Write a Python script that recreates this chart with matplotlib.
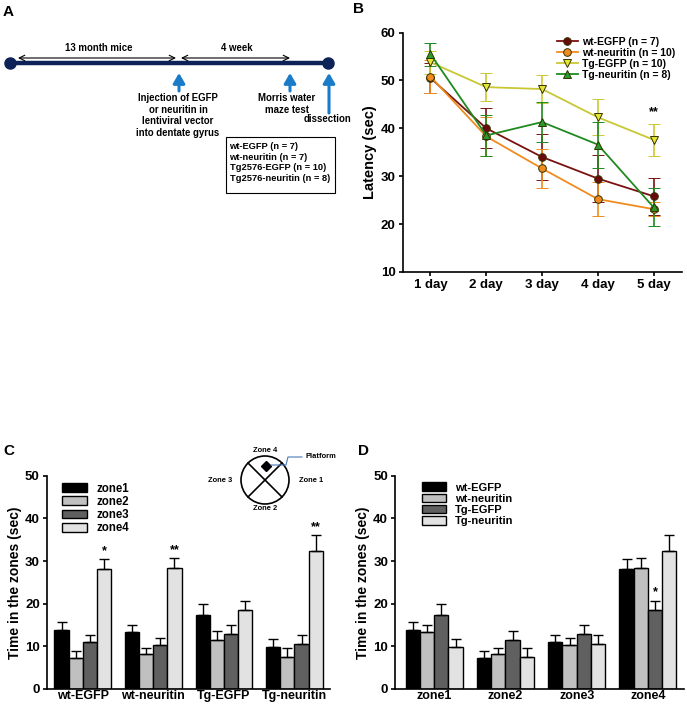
import numpy as np
import matplotlib
matplotlib.use('Agg')
import matplotlib.pyplot as plt
from matplotlib.patches import Circle, Rectangle
from matplotlib.lines import Line2D

plt.rcParams['font.family'] = ['Liberation Sans', 'DejaVu Sans']
plt.rcParams['font.weight'] = 'bold'
plt.rcParams['axes.labelweight'] = 'bold'

# ---- data ----
days = ['1 day', '2 day', '3 day', '4 day', '5 day']
latency_groups = ['wt-EGFP (n = 7)', 'wt-neuritin (n = 10)', 'Tg-EGFP (n = 10)', 'Tg-neuritin (n = 8)']
lat_wt_egfp = [50.5, 40.0, 34.0, 29.5, 25.8]
lat_wt_egfp_err = [3.2, 4.2, 4.9, 5.0, 3.9]
lat_wt_neu = [50.8, 38.3, 31.6, 25.2, 23.1]
lat_wt_neu_err = [3.5, 4.0, 4.1, 3.5, 1.4]
lat_tg_egfp = [53.8, 48.6, 48.2, 42.3, 37.6]
lat_tg_egfp_err = [2.4, 2.9, 3.0, 3.8, 3.3]
lat_tg_neu = [55.5, 38.5, 41.3, 36.6, 23.5]
lat_tg_neu_err = [2.4, 4.3, 4.2, 4.8, 4.0]

groups = ['wt-EGFP', 'wt-neuritin', 'Tg-EGFP', 'Tg-neuritin']
zones = ['zone1', 'zone2', 'zone3', 'zone4']
# rows: groups, cols: zones
zone_time = np.array([[13.8, 7.3, 10.9, 28.1],
                      [13.4, 8.1, 10.2, 28.3],
                      [17.4, 11.5, 12.8, 18.4],
                      [9.9, 7.4, 10.5, 32.4]])
zone_err = np.array([[2.0, 1.5, 1.8, 2.3],
                     [1.5, 1.5, 1.7, 2.3],
                     [2.5, 2.1, 2.2, 2.3],
                     [1.7, 2.3, 2.2, 3.6]])

timeline_groups = ['wt-EGFP (n = 7)', 'wt-neuritin (n = 7)', 'Tg2576-EGFP (n = 10)', 'Tg2576-neuritin (n = 8)']

bar_colors = ['#000000', '#c0c0c0', '#606060', '#e2e2e2']

fig = plt.figure(figsize=(6.87, 7.08), dpi=100)

# overlay axes in pixel coordinates for panel A and the maze sketch
ov = fig.add_axes([0, 0, 1, 1])
ov.set_xlim(0, 687)
ov.set_ylim(708, 0)
ov.axis('off')
ov.set_zorder(10)

# panel letters
for lab, x, y in [('A', 3, 12), ('B', 353, 9), ('C', 3, 451), ('D', 358, 451)]:
    ov.text(x, y, lab, fontsize=11, fontweight='bold', va='center', ha='left')

# ---- panel A: timeline ----
navy = '#0d2358'
blue = '#1a7cc8'
ov.plot([10, 328], [63, 63], color=navy, lw=3.2, solid_capstyle='butt')
ov.plot([10, 328], [63, 63], 'o', color=navy, ms=8)
ov.annotate('', xy=(18, 58), xytext=(176, 58),
            arrowprops=dict(arrowstyle='<->', color='black', lw=0.8, shrinkA=0, shrinkB=0))
ov.annotate('', xy=(181, 58), xytext=(290, 58),
            arrowprops=dict(arrowstyle='<->', color='black', lw=0.8, shrinkA=0, shrinkB=0))
ov.text(99, 48, '13 month mice', fontsize=6.9, ha='center', va='center')
ov.text(237, 48, '4 week', fontsize=6.9, ha='center', va='center')
for x0, y0 in [(179, 91), (290, 91), (329, 113)]:
    ov.annotate('', xy=(x0, 73), xytext=(x0, y0),
                arrowprops=dict(arrowstyle='-|>,head_width=0.35,head_length=0.6',
                                color=blue, lw=2.2, shrinkA=0, shrinkB=0))
ov.text(178, 93, 'Injection of EGFP\nor neuritin in\nlentiviral vector\ninto dentate gyrus',
        fontsize=6.9, ha='center', va='top', linespacing=1.2)
ov.text(287, 93, 'Morris water\nmaze test', fontsize=6.9, ha='center', va='top', linespacing=1.2)
ov.text(327, 119, 'dissection', fontsize=6.9, ha='center', va='center')
ov.add_patch(Rectangle((226, 137), 109, 56, fill=False, ec='black', lw=0.8))
ov.text(229.5, 142, '\n'.join(timeline_groups), fontsize=6.7, ha='left', va='top', linespacing=1.25)

# ---- maze sketch in panel C ----
cx, cy, r = 265, 480, 24
ov.add_patch(Circle((cx, cy), r, fill=False, ec='black', lw=1.2))
d = r / np.sqrt(2)
ov.plot([cx - d, cx + d], [cy - d, cy + d], color='black', lw=1.2)
ov.plot([cx - d, cx + d], [cy + d, cy - d], color='black', lw=1.2)
ov.plot([266], [465.5], marker='D', color='black', ms=5)
ov.plot([271, 286, 288, 302], [465, 465, 457, 457], color='#4a7ab8', lw=0.8)
ov.text(265, 450, 'Zone 4', fontsize=5.4, ha='center', va='center')
ov.text(220, 480, 'Zone 3', fontsize=5.4, ha='center', va='center')
ov.text(311, 480, 'Zone 1', fontsize=5.4, ha='center', va='center')
ov.text(265, 509, 'Zone 2', fontsize=5.4, ha='center', va='center')
ov.text(306, 457, 'Platform', fontsize=5.4, ha='left', va='center')


def style_axes(ax):
    for s in ['top', 'right']:
        ax.spines[s].set_visible(False)
    for s in ['left', 'bottom']:
        ax.spines[s].set_linewidth(1.2)
    ax.tick_params(width=1.2, length=3, labelsize=9.5, pad=2)
    for t in ax.get_xticklabels() + ax.get_yticklabels():
        t.set_fontweight('bold')


# ---- panel B: latency ----
axB = fig.add_axes([0.586, 0.616, 0.406, 0.338])
x = np.arange(len(days))
series = [
    (lat_wt_egfp, lat_wt_egfp_err, '#7a1212', '#6a0a0a', 'o'),
    (lat_wt_neu, lat_wt_neu_err, '#f08c1e', '#f08c1e', 'o'),
    (lat_tg_egfp, lat_tg_egfp_err, '#c8c834', '#e6e632', 'v'),
    (lat_tg_neu, lat_tg_neu_err, '#1f8a1f', '#2a9a2a', '^'),
]
handles = []
for (vals, err, lc, fc, mk), lab in zip(series, latency_groups):
    axB.errorbar(x, vals, yerr=err, color=lc, lw=1.3, capsize=4, capthick=1.2,
                 elinewidth=1.2, marker=mk, ms=5.5, mfc=fc, mec='#333300', mew=0.7)
    handles.append(Line2D([], [], color=lc, lw=1.3, marker=mk, ms=5.5, mfc=fc,
                          mec='#333300', mew=0.7, label=lab))
axB.set_ylim(10, 60)
axB.set_xlim(-0.5, 4.5)
axB.set_xticks(x)
axB.set_xticklabels(days)
axB.set_yticks([10, 20, 30, 40, 50, 60])
axB.set_ylabel('Latency (sec)', fontsize=10.5, fontweight='bold', labelpad=3)
axB.text(4, 42.2, '**', fontsize=9, ha='center', va='bottom', fontweight='bold')
legB = axB.legend(handles=handles, loc='upper right', bbox_to_anchor=(1.0, 1.01), frameon=False,
                  fontsize=7.6, handlelength=2.0, labelspacing=0.1, borderaxespad=0.2,
                  handletextpad=0.4)
for t in legB.get_texts():
    t.set_fontweight('bold')
style_axes(axB)

# ---- panel C: time in zones by group ----
w = 0.2
offs = (np.arange(4) - 1.5) * w
ebar = dict(ecolor='black', elinewidth=1.0, capsize=3.5, capthick=1.0)
axC = fig.add_axes([0.068, 0.027, 0.412, 0.301])
gx = np.arange(len(groups))
for j, z in enumerate(zones):
    axC.bar(gx + offs[j], zone_time[:, j], w,
            yerr=[np.zeros(len(groups)), zone_err[:, j]], color=bar_colors[j],
            edgecolor='black', lw=1.0, label=z, error_kw=ebar)
axC.set_ylim(0, 50)
axC.set_xlim(-0.51, 3.5)
axC.set_xticks(gx)
axC.set_xticklabels(groups)
axC.set_yticks([0, 10, 20, 30, 40, 50])
axC.set_ylabel('Time in the zones (sec)', fontsize=10, fontweight='bold', labelpad=2)
for gi, txt in [(0, '*'), (1, '**'), (3, '**')]:
    axC.text(gi + offs[3], zone_time[gi, 3] + zone_err[gi, 3] + 0.6, txt, ha='center',
             va='bottom', fontsize=9, fontweight='bold')
legC = axC.legend(loc='upper left', bbox_to_anchor=(0.03, 1.0), frameon=False, fontsize=8.3,
                  handlelength=2.2, handleheight=0.8, labelspacing=0.1, borderaxespad=0.2)
for t in legC.get_texts():
    t.set_fontweight('bold')
style_axes(axC)
axC.tick_params(axis='x', length=0, pad=1, labelsize=9)

# ---- panel D: time in zones by zone ----
axD = fig.add_axes([0.575, 0.027, 0.420, 0.301])
zx = np.arange(len(zones))
for i, g in enumerate(groups):
    axD.bar(zx + offs[i], zone_time[i, :], w,
            yerr=[np.zeros(len(zones)), zone_err[i, :]], color=bar_colors[i],
            edgecolor='black', lw=1.0, label=g, error_kw=ebar)
axD.set_ylim(0, 50)
axD.set_xlim(-0.55, 3.5)
axD.set_xticks(zx)
axD.set_xticklabels(zones)
axD.set_yticks([0, 10, 20, 30, 40, 50])
axD.set_ylabel('Time in the zones (sec)', fontsize=10, fontweight='bold', labelpad=2)
axD.text(3 + offs[2], zone_time[2, 3] + zone_err[2, 3] + 0.6, '*', ha='center', va='bottom',
         fontsize=9, fontweight='bold')
legD = axD.legend(loc='upper left', bbox_to_anchor=(0.07, 1.0), frameon=False, fontsize=8,
                  handlelength=2.2, handleheight=0.8, labelspacing=0.1, borderaxespad=0.2)
for t in legD.get_texts():
    t.set_fontweight('bold')
style_axes(axD)
axD.tick_params(axis='x', length=0, pad=1, labelsize=9)

fig.savefig('out.png', dpi=100)
